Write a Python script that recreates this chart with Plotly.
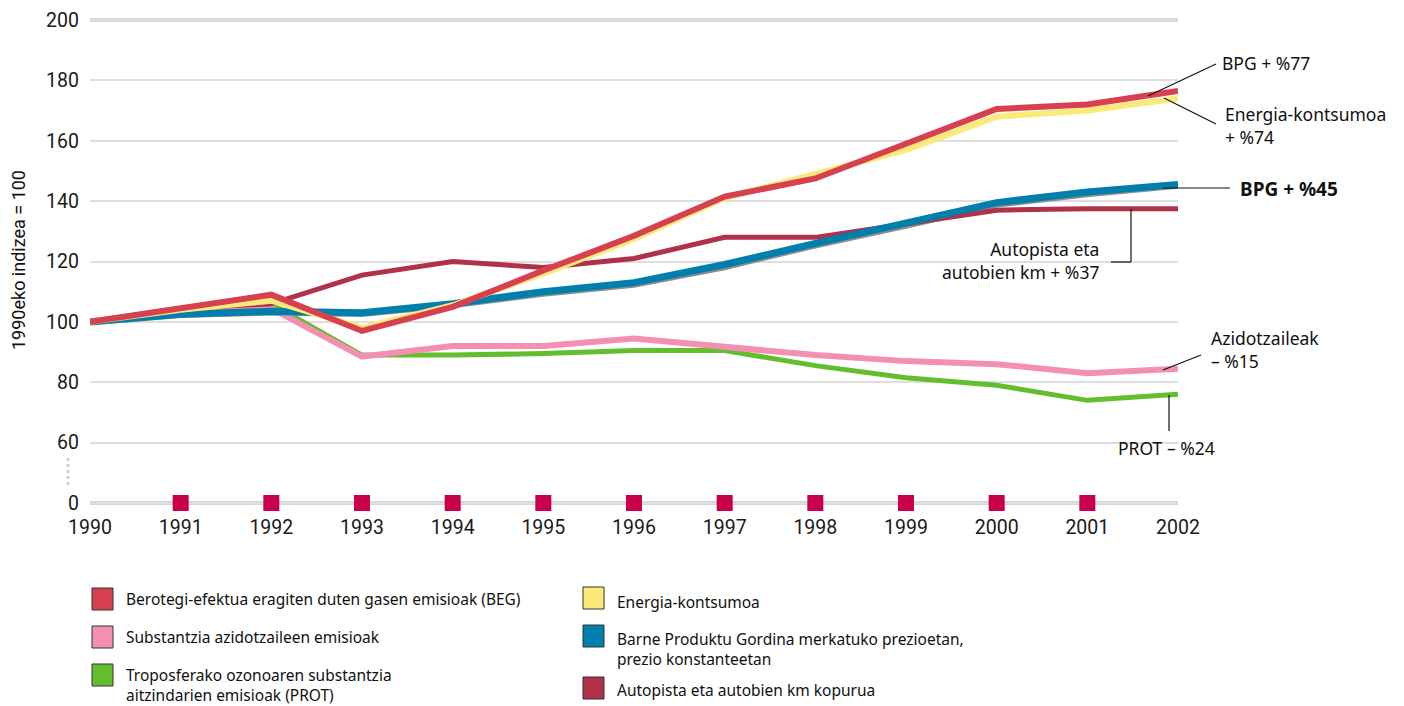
import plotly.graph_objects as go

years = list(range(1990, 2003))
beg = [100, 104.5, 109, 97, 105, 117, 128.5, 141.5, 147.5, 159, 170.5, 172, 176.5]
energia = [100, 104, 107, 98, 105.5, 116, 127.5, 141, 149, 157, 168, 170, 174]
bpg = [100, 102.5, 103.5, 103, 106, 110, 113, 119, 126, 132.5, 139.5, 143, 145.5]
bpg_shadow = [99.3, 101.8, 102.6, 102.1, 105, 108.8, 111.8, 117.6, 124.8, 131.3, 138.3, 141.8, 144.6]
autopista = [100, 104.5, 106, 115.5, 120, 118, 121, 128, 128, 132.5, 137, 137.5, 137.5]
azido = [100, 103, 104.5, 88.5, 92, 92, 94.5, 92, 89, 87, 86, 83, 84.5]
prot = [100, 103.5, 106, 89, 89, 89.5, 90.5, 90.5, 85.5, 81.5, 79, 74, 76]
marker_years = list(range(1991, 2002))

y_tickvals = [40, 60, 80, 100, 120, 140, 160, 180, 200]
y_ticktext = ["0", "60", "80", "100", "120", "140", "160", "180", "200"]

OFF = 8  # page body margin
W, H = 1404 - OFF, 706 - OFF
# reference pixel geometry: x 1990 at 90, 2002 at 1178; y 200 at 20, 40 at 503
X0, X1 = 90 - OFF, 1178 - OFF
Y200, Y40 = 20 - OFF, 503 - OFF
PPU = (Y40 - Y200) / 160.0
T_M, B_EDGE = 6, 501  # integer plot top / bottom (figure px)
YMAX = 200 + (Y200 - T_M) / PPU
YMIN = 40 - (B_EDGE - Y40) / PPU

PH = B_EDGE - T_M
def px_(px):
    return (px - OFF - X0) / (X1 - X0)
def py_(py):
    return (B_EDGE - (py - OFF)) / PH

C_RED = "#d7404f"
C_YEL = "#f9ea7a"
C_BLUE = "#007fad"
C_DRED = "#b0314a"
C_PINK = "#f28fb3"
C_GREEN = "#63be2d"
C_SQ = "#c8004b"

fig = go.Figure()
def line(y, color, width):
    fig.add_trace(go.Scatter(x=years, y=y, mode="lines",
                             line=dict(color=color, width=width),
                             showlegend=False, hoverinfo="skip"))

line(prot, C_GREEN, 5)
line(azido, C_PINK, 6)
line(bpg_shadow, "#8c8c8c", 3)
line(autopista, C_DRED, 5)
line(bpg, C_BLUE, 7)
line(energia, C_YEL, 6)
line(beg, C_RED, 6)

fig.add_trace(go.Scatter(x=marker_years, y=[40] * len(marker_years), mode="markers",
                         marker=dict(symbol="square", size=16, color=C_SQ),
                         cliponaxis=False, showlegend=False, hoverinfo="skip"))

shapes = []
for yv in (200, 40):
    shapes.append(dict(type="line", xref="x", yref="y", x0=1990, x1=2002, y0=yv, y1=yv,
                       line=dict(color="#a7a9ac", width=3), layer="below"))
# broken-axis dotted mark (outside plot area -> paper refs)
shapes.append(dict(type="line", xref="paper", yref="paper", x0=px_(68), x1=px_(68), y0=py_(458), y1=py_(486),
                   line=dict(color="#d0d0d0", width=3, dash="dot")))
# leader lines
def seg(x0, y0, x1, y1):
    shapes.append(dict(type="line", xref="paper", yref="paper", x0=px_(x0), y0=py_(y0), x1=px_(x1), y1=py_(y1),
                       line=dict(color="#111111", width=1.2)))
seg(1148, 96, 1216, 64)
seg(1164, 98, 1216, 124)
seg(1163, 188, 1230, 188)
seg(1131, 209, 1131, 262)
seg(1131, 262, 1111, 262)
seg(1163, 370, 1201, 355)
seg(1169, 395, 1169, 431)

annotations = []
AF = "Noto Sans"
def ann(px, py, text, anchor="left", size=17.5, bold=False, align="left"):
    annotations.append(dict(xref="paper", yref="paper", x=px_(px), y=py_(py), text=("<b>%s</b>" % text) if bold else text,
                            showarrow=False, xanchor=anchor, yanchor="middle", align=align,
                            font=dict(family=AF, size=size, color="#111111")))
ann(1220, 63, "BPG + %77")
ann(1223, 125, "Energia-kontsumoa<br>+ %74")
ann(1238, 189, "BPG + %45", bold=True, size=19)
ann(1101, 260, "Autopista eta<br>autobien km + %37", anchor="right", align="right")
ann(1209, 350, "Azidotzaileak<br>– %15")
ann(1116, 448, "PROT – %24")

# y axis title
annotations.append(dict(xref="paper", yref="paper", x=px_(18), y=py_(260), text="1990eko indizea = 100",
                        textangle=-90, showarrow=False, xanchor="center", yanchor="middle",
                        font=dict(family="Roboto", size=18, color="#111111")))

# custom legend
legend_items = [
    (92, 599, C_RED, "Berotegi-efektua eragiten duten gasen emisioak (BEG)", 599),
    (92, 637, C_PINK, "Substantzia azidotzaileen emisioak", 637),
    (92, 675, C_GREEN, "Troposferako ozonoaren substantzia<br>aitzindarien emisioak (PROT)", 685),
    (583, 598, C_YEL, "Energia-kontsumoa", 602),
    (583, 636, C_BLUE, "Barne Produktu Gordina merkatuko prezioetan,<br>prezio konstanteetan", 649),
    (583, 688, C_DRED, "Autopista eta autobien km kopurua", 690),
]
for bx, by, col, text, ty in legend_items:
    shapes.append(dict(type="rect", xref="paper", yref="paper",
                       x0=px_(bx), x1=px_(bx + 21), y0=py_(by - 11), y1=py_(by + 11),
                       fillcolor=col, line=dict(color="#333333", width=1)))
    annotations.append(dict(xref="paper", yref="paper", x=px_(bx + 32), y=py_(ty), text=text,
                            showarrow=False, xanchor="left", yanchor="middle", align="left",
                            font=dict(family=AF, size=15.5, color="#111111")))

fig.update_layout(
    width=W, height=H,
    margin=dict(l=X0, r=W - X1, t=T_M, b=H - B_EDGE, pad=0, autoexpand=False),
    plot_bgcolor="white", paper_bgcolor="white",
    showlegend=False,
    shapes=shapes, annotations=annotations,
    xaxis=dict(range=[1990, 2002], tickvals=years, ticktext=[str(y) for y in years],
               showgrid=False, zeroline=False, showline=False, ticks="", automargin=False,
               tickfont=dict(family="Roboto", size=19.5, color="#1a1a1a"), ticklabelstandoff=4),
    yaxis=dict(range=[YMIN, YMAX], tickvals=y_tickvals, ticktext=y_ticktext,
               showgrid=True, gridcolor="#dedede", gridwidth=1.5, zeroline=False, showline=False, ticks="",
               automargin=False,
               tickfont=dict(family="Roboto", size=19.5, color="#1a1a1a"), ticklabelstandoff=10),
)

fig.write_html("out.html")
